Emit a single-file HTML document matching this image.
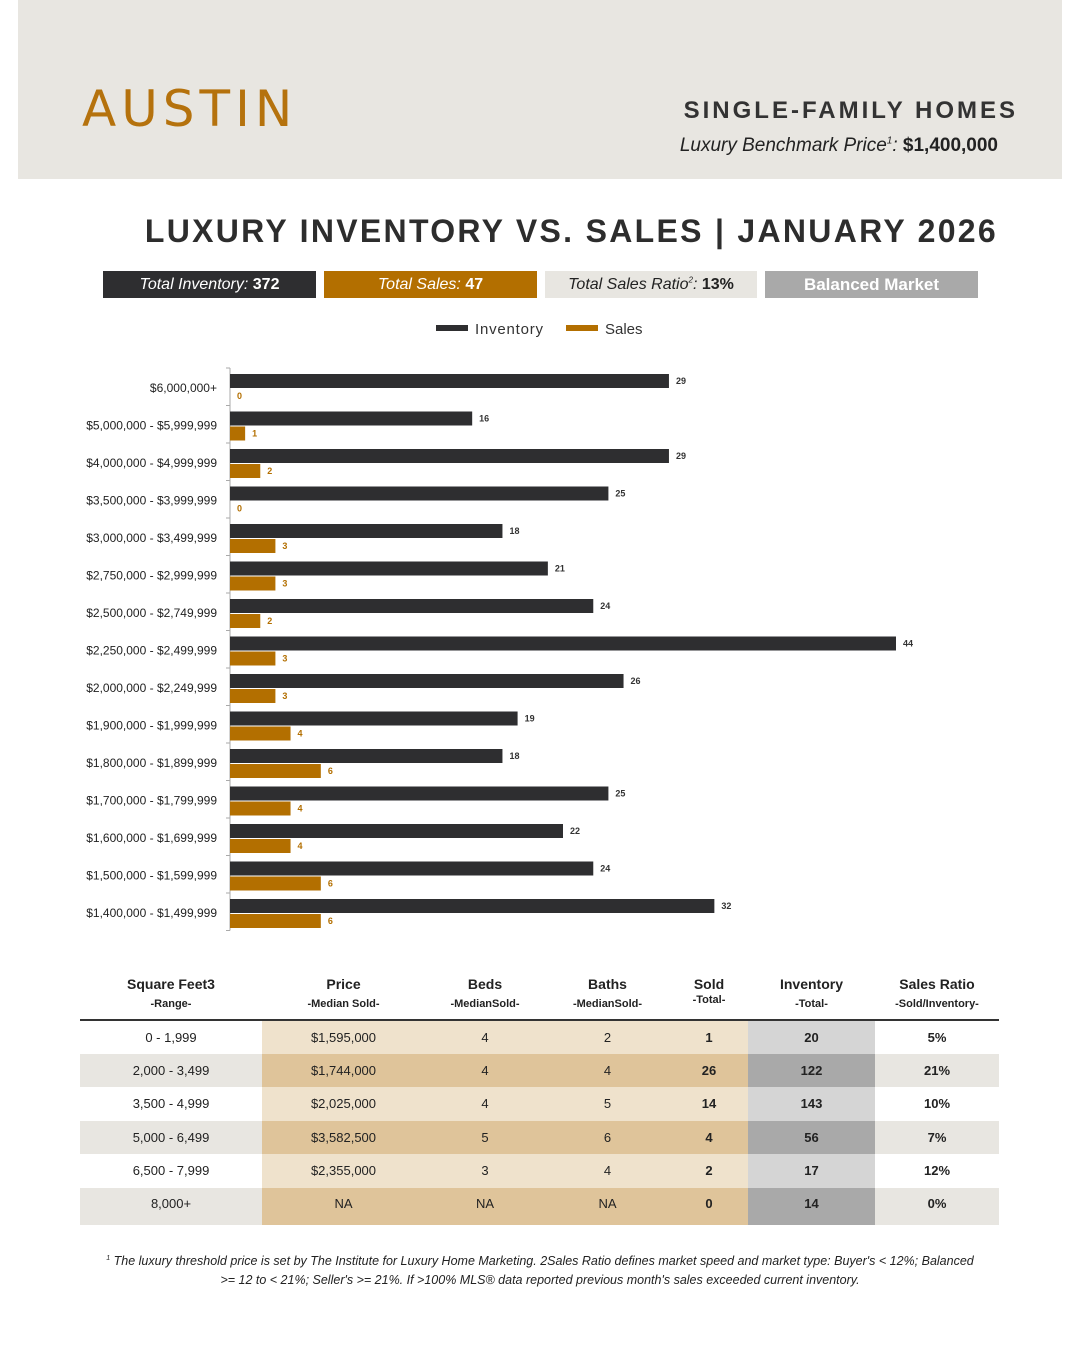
<!DOCTYPE html>
<html><head><meta charset="utf-8"><style>
*{margin:0;padding:0;box-sizing:border-box}
body{width:1080px;height:1350px;background:#fff;font-family:"Liberation Sans",sans-serif;position:relative;overflow:hidden;color:#222}
.abs{position:absolute}
sup{line-height:0}
.hdr{left:18px;top:0;width:1044px;height:179px;background:#e8e6e1}
.stat{top:271px;height:27px;font-size:16px;text-align:center;line-height:27px;font-style:italic}
.stat b{font-style:normal}
table{position:absolute;left:80px;top:972px;width:919px;border-collapse:collapse;font-size:13px}
th{font-weight:bold;font-size:14px;height:48px;vertical-align:top;padding-top:4px}
th small{display:block;font-size:11px;margin-top:6px}
td{text-align:center;height:33.5px}
thead tr{border-bottom:2px solid #333}
</style></head><body>
<div class="abs hdr"></div>
<div class="abs" style="left:82px;top:80px;font-size:50px;letter-spacing:5px;color:#b5720d;font-family:'DejaVu Sans',sans-serif;font-weight:normal">AUSTIN</div>
<div class="abs" style="right:62px;top:97px;font-size:24px;letter-spacing:3px;font-weight:bold;color:#333">SINGLE-FAMILY HOMES</div>
<div class="abs" style="right:82px;top:135px;font-size:19px;font-style:italic;color:#222">Luxury Benchmark Price<sup style="font-size:10px">1</sup>: <b style="font-style:normal">$1,400,000</b></div>
<div class="abs" style="right:82px;top:213px;font-size:32px;letter-spacing:2.3px;font-weight:bold;color:#2d2d2d">LUXURY INVENTORY VS. SALES | JANUARY 2026</div>
<div class="abs stat" style="left:103px;width:213px;background:#2e2e30;color:#fff">Total Inventory: <b>372</b></div>
<div class="abs stat" style="left:324px;width:213px;background:#b36f00;color:#fff">Total Sales: <b>47</b></div>
<div class="abs stat" style="left:545px;width:212px;background:#e8e6e1;color:#222">Total Sales Ratio<sup style="font-size:8px">2</sup>: <b>13%</b></div>
<div class="abs stat" style="left:765px;width:213px;background:#a9a9a9;color:#fff;font-style:normal;font-weight:bold;font-size:17px">Balanced Market</div>
<svg class="abs" style="left:0;top:300px" width="1080" height="650" id="chart"></svg>
<script>
const categories=["$6,000,000+","$5,000,000 - $5,999,999","$4,000,000 - $4,999,999","$3,500,000 - $3,999,999","$3,000,000 - $3,499,999","$2,750,000 - $2,999,999","$2,500,000 - $2,749,999","$2,250,000 - $2,499,999","$2,000,000 - $2,249,999","$1,900,000 - $1,999,999","$1,800,000 - $1,899,999","$1,700,000 - $1,799,999","$1,600,000 - $1,699,999","$1,500,000 - $1,599,999","$1,400,000 - $1,499,999"];
const inventory=[29,16,29,25,18,21,24,44,26,19,18,25,22,24,32];
const sales=[0,1,2,0,3,3,2,3,3,4,6,4,4,6,6];
const svg=document.getElementById('chart');const NS='http://www.w3.org/2000/svg';
const x0=230,scale=666/44,top0=68,step=37.5;
const xs=v=>x0+v*scale, yc=i=>top0+20+i*step;
function mk(t,a,txt){const e=document.createElementNS(NS,t);for(const k in a)e.setAttribute(k,a[k]);if(txt!==undefined)e.textContent=txt;svg.appendChild(e);return e;}
let e;
e=mk('rect',{x:436,y:25,width:32,height:6,fill:'#2e2e30'});
e=mk('text',{x:475,y:34,'font-size':15,fill:'#333',textLength:68},'Inventory');
e=mk('rect',{x:566,y:25,width:32,height:6,fill:'#b36f00'});
e=mk('text',{x:605,y:34,'font-size':15,fill:'#333'},'Sales');
e=mk('line',{x1:x0,x2:x0,y1:top0,y2:top0+categories.length*step,stroke:'#aaa','stroke-width':1});
for(let i=0;i<=categories.length;i++){e=mk('line',{x1:x0-4,x2:x0,y1:top0+i*step,y2:top0+i*step,stroke:'#aaa'});}
categories.forEach((c,i)=>{const y=yc(i);
e=mk('text',{x:217,y:y+4,'font-size':12,'text-anchor':'end',fill:'#222'},c);
e=mk('rect',{x:x0,y:y-14,width:inventory[i]*scale,height:14,fill:'#2e2e30'});
e=mk('text',{x:xs(inventory[i])+7,y:y-4,'font-size':9,'font-weight':'bold',fill:'#333'},inventory[i]);
e=mk('rect',{x:x0,y:y+1,width:sales[i]*scale,height:14,fill:'#b36f00'});
e=mk('text',{x:xs(sales[i])+7,y:y+11,'font-size':9,'font-weight':'bold',fill:'#b36f00'},sales[i]);
});
</script>
<table>
<colgroup><col style="width:182px"><col style="width:163px"><col style="width:120px"><col style="width:125px"><col style="width:78px"><col style="width:127px"><col style="width:124px"></colgroup>
<thead><tr><th>Square Feet3<small>-Range-</small></th><th>Price<small>-Median Sold-</small></th><th>Beds<small>-MedianSold-</small></th><th>Baths<small>-MedianSold-</small></th><th>Sold<small style="margin-top:2px">-Total-</small></th><th>Inventory<small>-Total-</small></th><th>Sales Ratio<small>-Sold/Inventory-</small></th></tr></thead>
<tbody id="tb"></tbody></table>
<script>
const rows=[["0 - 1,999","$1,595,000","4","2","1","20","5%"],["2,000 - 3,499","$1,744,000","4","4","26","122","21%"],["3,500 - 4,999","$2,025,000","4","5","14","143","10%"],["5,000 - 6,499","$3,582,500","5","6","4","56","7%"],["6,500 - 7,999","$2,355,000","3","4","2","17","12%"],["8,000+","NA","NA","NA","0","14","0%"]];
const tb=document.getElementById('tb');
rows.forEach((r,i)=>{const tr=document.createElement('tr');


const odd=i%2==1;
r.forEach((v,j)=>{const td=document.createElement('td');td.textContent=v;


let bg=odd?'#e8e6e1':'#fff';if(j>=1&&j<=4)bg=odd?'#dfc49a':'#efe2cc';if(j==5)bg=odd?'#a9a9a9':'#d5d5d5';
td.style.background=bg;if(j>=4)td.style.fontWeight='bold';if(i==5)td.style.verticalAlign='top',td.style.paddingTop='8px',td.style.height='37px';
tr.appendChild(td);});tb.appendChild(tr);});
</script>
<div class="abs" style="left:100px;width:880px;top:1252px;font-size:12.5px;font-style:italic;text-align:center;line-height:19px;color:#222"><sup style="font-size:7px">1</sup> The luxury threshold price is set by The Institute for Luxury Home Marketing. 2Sales Ratio defines market speed and market type: Buyer's &lt; 12%; Balanced &gt;= 12 to &lt; 21%; Seller's &gt;= 21%. If &gt;100% MLS® data reported previous month's sales exceeded current inventory.</div>
</body></html>
